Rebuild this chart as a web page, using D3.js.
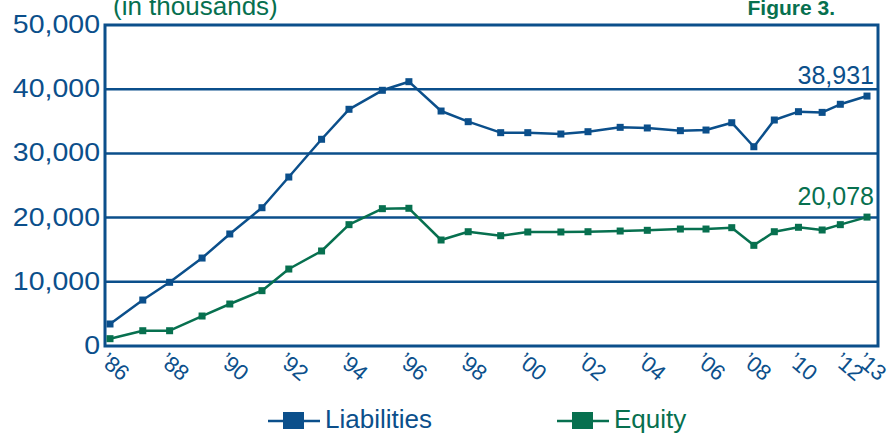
<!DOCTYPE html>
<html>
<head>
<meta charset="utf-8">
<script src="https://cdn.jsdelivr.net/npm/d3@7"></script>
<style>
    body { margin: 0; background: #fff; }
    svg { display: block; font-family: "Liberation Sans", Arial, sans-serif; }
</style>
</head>
<body>
<svg id="chart" width="892" height="435"></svg>
<script>
// observation dates (decimal year, as placed on the original axis)
var obsYears = [1986.00, 1987.10, 1988.00, 1989.09, 1990.02, 1991.10, 1992.00, 1993.10,
    1994.02, 1995.14, 1996.03, 1997.11, 1998.02, 1999.11, 2000.02, 2001.13, 2002.04,
    2003.12, 2004.03, 2005.14, 2006.00, 2007.12, 2008.08, 2008.97, 2010.02, 2011.05,
    2011.84, 2013.00];

var liabilities = [3430, 7160, 9920, 13700, 17450, 21540, 26320, 32200, 36870, 39830,
    41170, 36600, 34940, 33230, 33230, 33020, 33380, 34060, 33960, 33540, 33640, 34780,
    31040, 35200, 36500, 36390, 37650, 38931];

var equity = [1140, 2380, 2380, 4670, 6540, 8620, 11990, 14800, 18900, 21390, 21450,
    16510, 17800, 17180, 17760, 17760, 17800, 17910, 18020, 18220, 18220, 18430, 15680,
    17800, 18490, 18070, 18900, 20078];

var tickYears = [1986, 1988, 1990, 1992, 1994, 1996, 1998, 2000, 2002, 2004, 2006,
    2008, 2010, 2012, 2013];
var yTicks = [0, 10000, 20000, 30000, 40000, 50000];

var blue = "#0b4f8b",
    green = "#07704f";

var svg = d3.select("#chart");
var plotL = 105, plotR = 878, plotT = 25, plotB = 346;

// axis is compressed after '06 in the original
var x = d3.scaleLinear()
    .domain([1986, 2006, 2013])
    .range([plotL + 5, plotL + 601, plotR - 11]);
var y = d3.scaleLinear()
    .domain([0, 50000])
    .range([plotB, plotT]);

var fmt = d3.format(",");

// gridlines
svg.append("g")
    .selectAll("line")
    .data(yTicks.slice(1, -1))
    .enter().append("line")
    .attr("x1", plotL)
    .attr("x2", plotR)
    .attr("y1", function (d) { return y(d); })
    .attr("y2", function (d) { return y(d); })
    .attr("stroke", blue)
    .attr("stroke-width", 2.5);

// frame
svg.append("rect")
    .attr("x", plotL)
    .attr("y", plotT)
    .attr("width", plotR - plotL)
    .attr("height", plotB - plotT)
    .attr("fill", "none")
    .attr("stroke", blue)
    .attr("stroke-width", 3);

// y labels
svg.append("g")
    .selectAll("text")
    .data(yTicks)
    .enter().append("text")
    .attr("transform", function (d) {
        return "translate(" + (plotL - 5) + "," + (y(d) + 8) + ") scale(1.14,1)";
    })
    .attr("text-anchor", "end")
    .attr("fill", blue)
    .style("font-size", "25px")
    .text(function (d) { return fmt(d); });

// x labels
svg.append("g")
    .selectAll("text")
    .data(tickYears)
    .enter().append("text")
    .attr("transform", function (d) {
        return "translate(" + (x(d) - 11) + ",363) rotate(40)";
    })
    .attr("fill", blue)
    .style("font-size", "22px")
    .text(function (d) { return "\u2019" + String(d).slice(2); });

function drawSeries(values, color) {
    var pts = values.map(function (v, i) {
        return {year: obsYears[i], value: v};
    });
    var line = d3.line()
        .x(function (d) { return x(d.year); })
        .y(function (d) { return y(d.value); });

    var g = svg.append("g");
    g.append("path")
        .datum(pts)
        .attr("d", line)
        .attr("fill", "none")
        .attr("stroke", color)
        .attr("stroke-width", 2.5)
        .attr("stroke-linejoin", "round");

    g.selectAll("rect")
        .data(pts)
        .enter().append("rect")
        .attr("x", function (d) { return x(d.year) - 3.5; })
        .attr("y", function (d) { return y(d.value) - 3.5; })
        .attr("width", 7)
        .attr("height", 7)
        .attr("fill", color);

    var last = pts[pts.length - 1];
    svg.append("text")
        .attr("x", x(last.year) + 7)
        .attr("y", y(last.value) - 12)
        .attr("text-anchor", "end")
        .attr("fill", color)
        .style("font-size", "25px")
        .text(fmt(last.value));
}

drawSeries(liabilities, blue);
drawSeries(equity, green);

// header texts
svg.append("text")
    .attr("x", 113)
    .attr("y", 15)
    .attr("fill", green)
    .style("font-size", "26px")
    .text("(in thousands)");

svg.append("text")
    .attr("x", 835)
    .attr("y", 15)
    .attr("text-anchor", "end")
    .attr("fill", green)
    .style("font-size", "21px")
    .style("font-weight", "bold")
    .text("Figure 3.");

// legend
var legend = [{name: "Liabilities", color: blue, x: 268},
    {name: "Equity", color: green, x: 557}];

var lg = svg.append("g")
    .selectAll("g")
    .data(legend)
    .enter().append("g")
    .attr("transform", function (d) { return "translate(" + d.x + ",421)"; });

lg.append("line")
    .attr("x1", 0)
    .attr("x2", 52)
    .attr("stroke", function (d) { return d.color; })
    .attr("stroke-width", 2.5);

lg.append("rect")
    .attr("x", 15)
    .attr("y", -9)
    .attr("width", 21)
    .attr("height", 17)
    .attr("fill", function (d) { return d.color; });

lg.append("text")
    .attr("x", 57)
    .attr("y", 7)
    .attr("fill", function (d) { return d.color; })
    .style("font-size", "26px")
    .text(function (d) { return d.name; });
</script>
</body>
</html>
